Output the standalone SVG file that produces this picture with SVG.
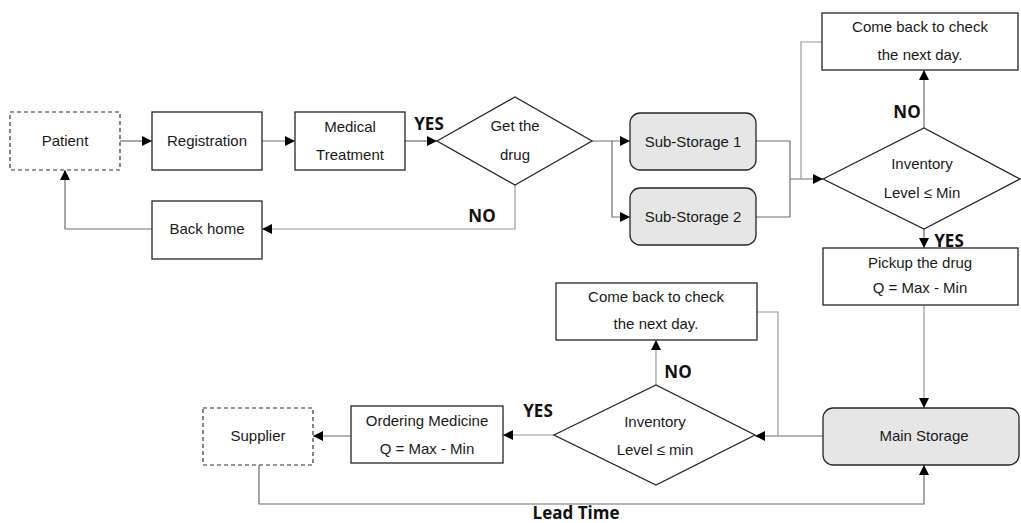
<svg xmlns="http://www.w3.org/2000/svg" width="1021" height="523" viewBox="0 0 1021 523">
  <style>
    .box { fill: #ffffff; stroke: #262626; stroke-width: 1.3; }
    .ext { fill: #ffffff; stroke: #333333; stroke-width: 1.2; stroke-dasharray: 4 3; }
    .store { fill: #e6e6e6; stroke: #262626; stroke-width: 1.3; }
    .dec { fill: #ffffff; stroke: #262626; stroke-width: 1.3; }
    .lbl { font-family: "Liberation Sans", Arial, sans-serif; font-size: 15px; fill: #1a1a1a; text-anchor: middle; }
    .tag { font-family: "Open Sans", "Liberation Sans", sans-serif; font-size: 17px; font-weight: bold; fill: #111111; text-anchor: middle; }
    .wire { fill: none; stroke: #6e6e6e; stroke-width: 1.2; }
    .wire-lt { fill: none; stroke: #9a9a9a; stroke-width: 1.2; }
  </style>
  <defs>
    <marker id="arrow" viewBox="0 0 10 10" refX="10" refY="5" markerWidth="10" markerHeight="10" markerUnits="userSpaceOnUse" orient="auto">
      <path d="M0,0 L10,5 L0,10 Z" fill="#000000"/>
    </marker>
  </defs>

  <rect width="1021" height="523" fill="#ffffff"/>

  <!-- connectors -->
  <g id="connectors">
    <path class="wire" d="M120,141 H152" marker-end="url(#arrow)"/>
    <path class="wire" d="M262,141 H295" marker-end="url(#arrow)"/>
    <path class="wire" d="M405,141 H437" marker-end="url(#arrow)"/>
    <path class="wire" d="M592,141 H630" marker-end="url(#arrow)"/>
    <path class="wire" d="M612,141 V217 H630" marker-end="url(#arrow)"/>
    <path class="wire-lt" d="M515,185 V229 H262" marker-end="url(#arrow)"/>
    <path class="wire" d="M152,229 H65 V170" marker-end="url(#arrow)"/>
    <path class="wire" d="M756,141 H790 V179 H823" marker-end="url(#arrow)"/>
    <path class="wire" d="M756,217 H790 V179"/>
    <path class="wire-lt" d="M822,42 H801 V179"/>
    <path class="wire" d="M924,128 V70" marker-end="url(#arrow)"/>
    <path class="wire" d="M924,229 V248" marker-end="url(#arrow)"/>
    <path class="wire-lt" d="M924,305 V408" marker-end="url(#arrow)"/>
    <path class="wire" d="M823,436 H755" marker-end="url(#arrow)"/>
    <path class="wire-lt" d="M757,312 H778 V436"/>
    <path class="wire-lt" d="M656,385 V340" marker-end="url(#arrow)"/>
    <path class="wire-lt" d="M554,435 H503" marker-end="url(#arrow)"/>
    <path class="wire" d="M351,436 H313" marker-end="url(#arrow)"/>
    <path class="wire" d="M259,465 V504 H924 V465" marker-end="url(#arrow)"/>
  </g>

  <!-- branch labels -->
  <g id="labels">
    <text class="tag" x="429" y="130">YES</text>
    <text class="tag" x="482" y="222">NO</text>
    <text class="tag" x="907" y="118">NO</text>
    <text class="tag" x="949" y="247">YES</text>
    <text class="tag" x="678" y="378">NO</text>
    <text class="tag" x="538" y="417">YES</text>
    <text class="tag" x="576" y="519">Lead Time</text>
  </g>

  <g id="patient">
    <rect class="ext" x="10" y="112" width="110" height="58"/>
    <text class="lbl" x="65" y="146">Patient</text>
  </g>
  <g id="registration">
    <rect class="box" x="152" y="112" width="110" height="58"/>
    <text class="lbl" x="207" y="146">Registration</text>
  </g>
  <g id="medical-treatment">
    <rect class="box" x="295" y="112" width="110" height="58"/>
    <text class="lbl" x="350" y="132">Medical</text>
    <text class="lbl" x="350" y="160">Treatment</text>
  </g>
  <g id="back-home">
    <rect class="box" x="152" y="201" width="110" height="58"/>
    <text class="lbl" x="207" y="234">Back home</text>
  </g>
  <g id="get-drug">
    <polygon class="dec" points="437,141 515,97 592,141 515,185"/>
    <text class="lbl" x="515" y="131">Get the</text>
    <text class="lbl" x="515" y="160">drug</text>
  </g>
  <g id="sub-storage-1">
    <rect class="store" x="630" y="113" width="126" height="57" rx="10"/>
    <text class="lbl" x="693" y="147">Sub-Storage 1</text>
  </g>
  <g id="sub-storage-2">
    <rect class="store" x="630" y="188" width="126" height="57" rx="10"/>
    <text class="lbl" x="693" y="222">Sub-Storage 2</text>
  </g>
  <g id="check-next-day-1">
    <rect class="box" x="822" y="13" width="196" height="57"/>
    <text class="lbl" x="920" y="32">Come back to check</text>
    <text class="lbl" x="920" y="60">the next day.</text>
  </g>
  <g id="inventory-sub">
    <polygon class="dec" points="823,179 924,128 1020,179 924,229"/>
    <text class="lbl" x="922" y="169">Inventory</text>
    <text class="lbl" x="922" y="198">Level ≤ Min</text>
  </g>
  <g id="pickup">
    <rect class="box" x="823" y="248" width="195" height="57"/>
    <text class="lbl" x="920" y="268">Pickup the drug</text>
    <text class="lbl" x="920" y="293">Q = Max - Min</text>
  </g>
  <g id="main-storage">
    <rect class="store" x="823" y="408" width="196" height="57" rx="10"/>
    <text class="lbl" x="924" y="441">Main Storage</text>
  </g>
  <g id="check-next-day-2">
    <rect class="box" x="556" y="283" width="201" height="57"/>
    <text class="lbl" x="656" y="302">Come back to check</text>
    <text class="lbl" x="656" y="329">the next day.</text>
  </g>
  <g id="inventory-main">
    <polygon class="dec" points="554,435 656,385 755,435 656,485"/>
    <text class="lbl" x="655" y="427">Inventory</text>
    <text class="lbl" x="655" y="455">Level ≤ min</text>
  </g>
  <g id="ordering">
    <rect class="box" x="351" y="406" width="152" height="57"/>
    <text class="lbl" x="427" y="426">Ordering Medicine</text>
    <text class="lbl" x="427" y="454">Q = Max - Min</text>
  </g>
  <g id="supplier">
    <rect class="ext" x="203" y="408" width="110" height="57"/>
    <text class="lbl" x="258" y="441">Supplier</text>
  </g>
</svg>
